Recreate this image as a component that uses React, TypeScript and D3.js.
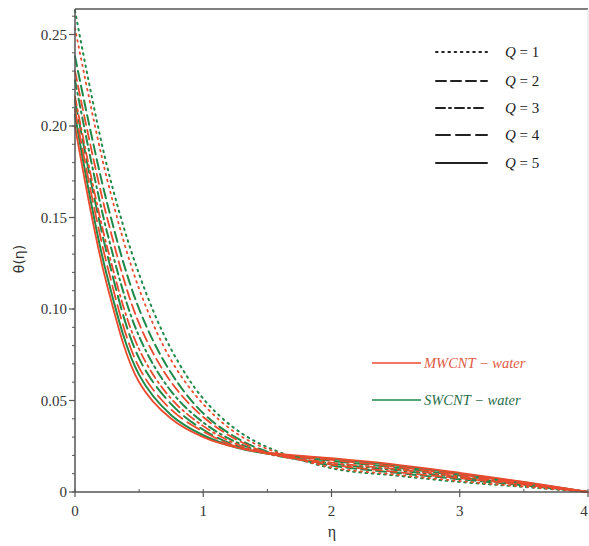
import React from "react";
import * as d3 from "d3";

const etaGrid = [0, 0.25, 0.5, 0.75, 1.0, 1.25, 1.5, 2.0, 2.5, 3.0, 3.5, 4.0];

const mwQ1 = [0.2535, 0.171, 0.111, 0.072, 0.048, 0.0325, 0.0235, 0.0135, 0.0095, 0.006, 0.003, 0];
const mwQ2 = [0.230, 0.150, 0.092, 0.060, 0.041, 0.029, 0.0215, 0.015, 0.011, 0.0075, 0.004, 0];
const mwQ3 = [0.216, 0.134, 0.078, 0.051, 0.036, 0.0265, 0.021, 0.016, 0.0125, 0.0085, 0.0045, 0];
const mwQ4 = [0.209, 0.124, 0.068, 0.045, 0.033, 0.025, 0.021, 0.0175, 0.0138, 0.0095, 0.005, 0];
const mwQ5 = [0.200, 0.113, 0.060, 0.040, 0.030, 0.0245, 0.0215, 0.0185, 0.015, 0.0105, 0.0055, 0];

const swQ1 = [0.263, 0.178, 0.119, 0.078, 0.051, 0.0345, 0.0245, 0.013, 0.009, 0.0055, 0.0028, 0];
const swQ2 = [0.238, 0.158, 0.100, 0.065, 0.043, 0.030, 0.022, 0.0145, 0.0105, 0.007, 0.0037, 0];
const swQ3 = [0.225, 0.142, 0.085, 0.055, 0.038, 0.0275, 0.021, 0.0155, 0.012, 0.008, 0.0042, 0];
const swQ4 = [0.214, 0.130, 0.073, 0.048, 0.034, 0.0255, 0.021, 0.017, 0.0133, 0.009, 0.0048, 0];
const swQ5 = [0.206, 0.118, 0.064, 0.042, 0.031, 0.0245, 0.021, 0.018, 0.0145, 0.010, 0.0053, 0];

const qLabels = ["1", "2", "3", "4", "5"];
const fluidLabels = ["MWCNT \u2212 water", "SWCNT \u2212 water"];
const xTicks = [0, 1, 2, 3, 4];
const yTicks = [0, 0.05, 0.1, 0.15, 0.2, 0.25];
const yTickLabels = ["0", "0.05", "0.10", "0.15", "0.20", "0.25"];

const RED = "#ec4a2e";
const GREEN = "#1e8a4a";
const dashes = ["1.6,4.6", "10,5", "9,4,2,4", "14,6", ""];

export default function App() {
  const W = 589, H = 546;
  const x = d3.scaleLinear().domain([0, 4]).range([75, 588]);
  const y = d3.scaleLinear().domain([0, 0.25]).range([492, 34.5]);
  const line = d3
    .line<number>()
    .x((_, i) => x(etaGrid[i]))
    .y((d) => y(d))
    .curve(d3.curveCatmullRom.alpha(0.5));

  const mw = [mwQ1, mwQ2, mwQ3, mwQ4, mwQ5];
  const sw = [swQ1, swQ2, swQ3, swQ4, swQ5];
  const axisColor = "#555";
  const minorY = d3.range(0, 27).map((i) => i * 0.01);
  const minorX = d3.range(0, 9).map((i) => i * 0.5);
  const serif = "'Liberation Serif', 'Times New Roman', serif";

  return (
    <svg width={W} height={H} style={{ position: "absolute", left: 0, top: 0, background: "#fff" }}>
      <rect x={0} y={0} width={W} height={H} fill="#fff" />
      <g fill="none" strokeLinecap="round">
        {sw.map((s, i) => (
          <path key={"sw" + i} d={line(s) || ""} stroke={GREEN} strokeWidth={2} strokeDasharray={dashes[i]} />
        ))}
        {mw.map((s, i) => (
          <path key={"mw" + i} d={line(s) || ""} stroke={RED} strokeWidth={1.8} strokeDasharray={dashes[i]} />
        ))}
      </g>
      <line x1={75} x2={588} y1={9} y2={9} stroke={axisColor} strokeWidth={1.5} />
      <line x1={588} x2={588} y1={9} y2={492} stroke="#ddd" strokeWidth={1} />
      <line x1={75} x2={75} y1={9} y2={492} stroke={axisColor} strokeWidth={1.5} />
      <line x1={75} x2={588} y1={492} y2={492} stroke={axisColor} strokeWidth={1.5} />
      {minorY.map((v) => (
        <line key={"my" + v} x1={72} x2={75} y1={y(v)} y2={y(v)} stroke={axisColor} strokeWidth={1} />
      ))}
      {yTicks.map((v, i) => (
        <g key={"yt" + v}>
          <line x1={69} x2={75} y1={y(v)} y2={y(v)} stroke={axisColor} strokeWidth={1.2} />
          <text x={67} y={y(v)} dy="0.35em" textAnchor="end" fontFamily={serif} fontSize={15} fill="#333">
            {yTickLabels[i]}
          </text>
        </g>
      ))}
      {minorX.map((v) => (
        <line key={"mx" + v} x1={x(v)} x2={x(v)} y1={492} y2={489} stroke={axisColor} strokeWidth={1} />
      ))}
      {xTicks.map((v) => (
        <g key={"xt" + v}>
          <line x1={x(v)} x2={x(v)} y1={492} y2={497} stroke={axisColor} strokeWidth={1.2} />
          <text x={v === 4 ? x(v) - 4 : x(v)} y={516} textAnchor="middle" fontFamily={serif} fontSize={15} fill="#333">
            {v}
          </text>
        </g>
      ))}
      <text x={332} y={537} textAnchor="middle" fontFamily={serif} fontSize={16} fill="#333">η</text>
      <text transform="translate(24,259) rotate(-90)" textAnchor="middle" fontFamily="'DejaVu Sans', sans-serif" fontSize={14} fill="#333">
        θ(η)
      </text>
      {qLabels.map((q, i) => {
        const ly = [52, 81, 108, 135, 163][i];
        return (
          <g key={"lg" + q}>
            <line x1={436} x2={487} y1={ly} y2={ly} stroke="#222" strokeWidth={2} strokeDasharray={dashes[i]} strokeLinecap="round" />
            <text x={505} y={ly} dy="0.35em" fontFamily={serif} fontSize={15} fill="#222">
              <tspan fontStyle="italic">Q</tspan>
              {" = " + q}
            </text>
          </g>
        );
      })}
      {fluidLabels.map((f, i) => {
        const ly = [363, 400][i];
        const c = i === 0 ? RED : GREEN;
        return (
          <g key={"fl" + i}>
            <line x1={372} x2={421} y1={ly} y2={ly} stroke={c} strokeWidth={1.6} />
            <text x={424} y={ly} dy="0.35em" fontFamily={serif} fontStyle="italic" fontSize={14.5} fill={i === 0 ? "#e05a45" : "#2a6e48"}>
              {f}
            </text>
          </g>
        );
      })}
    </svg>
  );
}
